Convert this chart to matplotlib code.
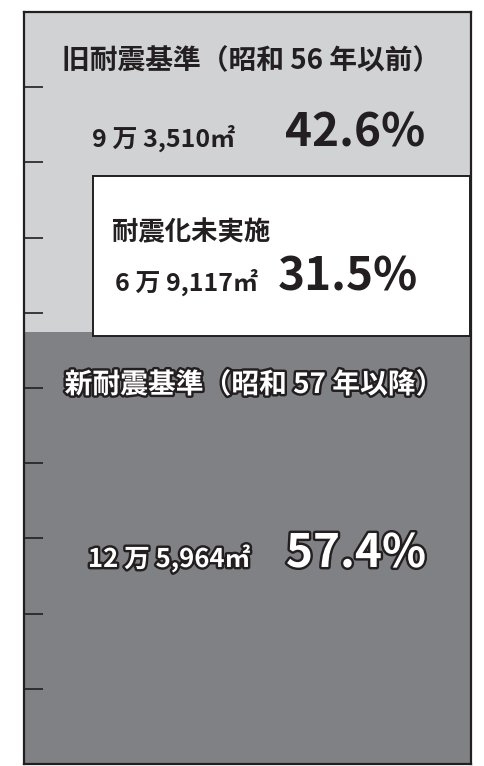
import numpy as np
import matplotlib
matplotlib.use("Agg")
import matplotlib.pyplot as plt
from matplotlib.patches import Rectangle
import matplotlib.patheffects as pe

plt.rcParams['font.family'] = ['Noto Sans CJK JP', 'DejaVu Sans']

# データ（割合 %）
categories = ['旧耐震基準（昭和 56 年以前）', '新耐震基準（昭和 57 年以降）']
shares = [42.6, 57.4]
areas = ['9 万 3,510㎡', '12 万 5,964㎡']
sub_label = '耐震化未実施'
sub_share = 31.5
sub_area = '6 万 9,117㎡'

light = '#d1d2d4'
dark = '#808185'
ink = '#231f20'

fig = plt.figure(figsize=(4.84, 7.66), dpi=100)
ax = fig.add_axes([24 / 484, 2 / 766, 447 / 484, 752 / 766])

# 積み上げ棒
bottom = 0
for val, col in zip(shares, [light, dark]):
    ax.bar(0.5, val, width=1, bottom=bottom, color=col, edgecolor='none')
    bottom += val

ax.set_xlim(0, 1)
ax.set_ylim(100, 0)
ax.set_xticks([])
ax.set_yticks(np.arange(10, 100, 10))
ax.set_yticklabels([])
ax.tick_params(axis='y', direction='in', length=14, width=1.2, color=ink)
for s in ax.spines.values():
    s.set_linewidth(1.6)
    s.set_color(ink)

# 耐震化未実施の枠
box_left, box_top = 0.155, 21.8
ax.add_patch(Rectangle((box_left, box_top), 0.997 - box_left, shares[0] - box_top + 0.5,
                       facecolor='white', edgecolor=ink, linewidth=1.4, zorder=2))

# 旧耐震
ax.text(0.507, 6.6, categories[0], ha='center', va='center', fontsize=20,
        fontweight='bold', color=ink)
ax.text(0.152, 17.95, areas[0], ha='left', va='baseline', fontsize=18,
        fontweight='bold', color=ink)
ax.text(0.584, 17.95, f'{shares[0]}%', ha='left', va='baseline', fontsize=33,
        fontweight='bold', color=ink)

# 未実施
ax.text(0.197, 29.3, sub_label, ha='left', va='center', fontsize=19,
        fontweight='bold', color=ink, zorder=3)
ax.text(0.204, 37.0, sub_area, ha='left', va='baseline', fontsize=18,
        fontweight='bold', color=ink, zorder=3)
ax.text(0.568, 37.0, f'{sub_share}%', ha='left', va='baseline', fontsize=33,
        fontweight='bold', color=ink, zorder=3)

# 新耐震（白抜き文字）
outline = [pe.Stroke(linewidth=3.5, foreground=ink), pe.Normal()]
ax.text(0.514, 49.6, categories[1], ha='center', va='center', fontsize=20,
        fontweight='bold', color='white', path_effects=outline)
ax.text(0.143, 73.8, areas[1], ha='left', va='baseline', fontsize=18.5,
        fontweight='bold', color='white', path_effects=outline)
ax.text(0.586, 73.8, f'{shares[1]}%', ha='left', va='baseline', fontsize=33,
        fontweight='bold', color='white', path_effects=outline)

fig.savefig('out.png', dpi=100)
